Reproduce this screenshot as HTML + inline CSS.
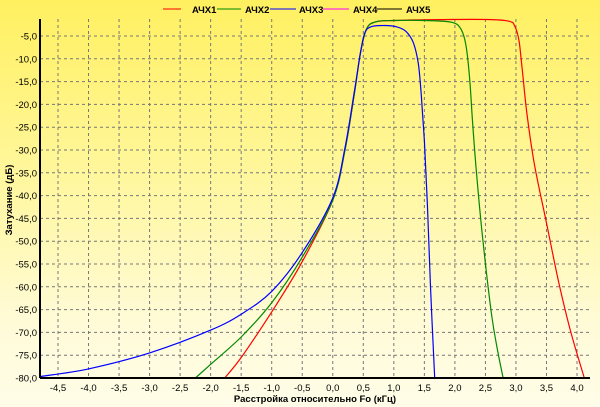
<!DOCTYPE html>
<html><head><meta charset="utf-8"><style>
html,body{margin:0;padding:0}
body{width:600px;height:407px;overflow:hidden;background:linear-gradient(#fff060 0%,#fff7a0 45%,#fffbd8 80%,#fffde8 100%);font-family:"Liberation Sans",Arial,sans-serif}
svg{position:absolute;left:0;top:0}
text{font-family:"Liberation Sans",Arial,sans-serif;font-size:9.5px;fill:#000}
</style></head><body>
<svg id="s" width="600" height="407" xmlns="http://www.w3.org/2000/svg">
<g id="grid" stroke="#777" stroke-width="1" stroke-dasharray="3,3"></g>
<g id="curves" fill="none" stroke-width="1.2"></g>
<line x1="40" y1="19" x2="40" y2="378" stroke="#000" stroke-width="2"/>
<line x1="40" y1="378" x2="590" y2="378" stroke="#000" stroke-width="2"/>
<g id="lab"></g>
<g font-weight="bold">
<line x1="163" y1="9" x2="181" y2="9" stroke="#f00"/><text x="192" y="13" font-weight="bold">АЧХ1</text>
<line x1="217" y1="9" x2="241" y2="9" stroke="#080"/><text x="245" y="13" font-weight="bold">АЧХ2</text>
<line x1="270" y1="9" x2="296" y2="9" stroke="#00f"/><text x="299" y="13" font-weight="bold">АЧХ3</text>
<line x1="323" y1="9" x2="349" y2="9" stroke="#f0f"/><text x="353" y="13" font-weight="bold">АЧХ4</text>
<line x1="377" y1="9" x2="402" y2="9" stroke="#000"/><text x="406" y="13" font-weight="bold">АЧХ5</text>
</g>
<text x="315" y="402" text-anchor="middle" font-weight="bold">Расстройка относительно Fo (кГц)</text>
<text transform="translate(12,200) rotate(-90)" text-anchor="middle" font-weight="bold">Затухание (дБ)</text>
</svg>
<script>
(function(){
var NS="http://www.w3.org/2000/svg";
function X(f){return 58+(f+4.5)*61.06}
function Y(d){return 36+(-5-d)/5*22.8}
function el(p,t,a,txt){var e=document.createElementNS(NS,t);for(var k in a)e.setAttribute(k,a[k]);if(txt)e.textContent=txt;p.appendChild(e);return e}
var g=document.getElementById('grid'),lab=document.getElementById('lab');
for(var i=-9;i<=8;i++){var f=i*0.5,x=X(f);el(g,'line',{x1:x,y1:19,x2:x,y2:378});
el(lab,'text',{x:x,y:391,'text-anchor':'middle'},(f.toFixed(1)).replace('.',','));}
for(var d=-5;d>=-80;d-=5){var y=Y(d);el(g,'line',{x1:40,y1:y,x2:590,y2:y});
el(lab,'text',{x:37,y:y+3.5,'text-anchor':'end'},d.toFixed(1).replace('.',','));}
var rise=[[0.2,-30],[0.35,-18],[0.45,-9],[0.55,-3.5],[0.7,-1.9],[1.0,-1.6]];
var data={
"#f00":[[-1.77,-80],[-1.5,-75.5],[-1.0,-65.5],[-0.5,-54.5],[0,-41]].concat(rise,[[1.8,-1.4],[2.6,-1.4],[2.9,-1.8],[2.98,-2.8],[3.05,-6],[3.1,-12],[3.18,-22],[3.3,-33],[3.5,-46],[3.7,-59],[3.9,-70],[4.12,-80]]),
"#080":[[-2.25,-80],[-2,-77],[-1.5,-71],[-1,-63.5],[-0.5,-53.5],[0,-41]].concat(rise,[[1.5,-1.6],[1.95,-2],[2.1,-3.5],[2.18,-7],[2.24,-14],[2.29,-24],[2.36,-36],[2.46,-50],[2.6,-66],[2.7,-74],[2.79,-80]]),
"#00f":[[-4.8,-79.7],[-4,-78],[-3,-74.5],[-2,-69.5],[-1.5,-66],[-1,-61],[-0.5,-52.5],[0,-40.5],[0.2,-29.5],[0.35,-17.5],[0.45,-9],[0.52,-4.5],[0.62,-3],[0.85,-2.7],[1.05,-3],[1.2,-4],[1.32,-6.5],[1.4,-11],[1.45,-18],[1.5,-28],[1.55,-42],[1.6,-60],[1.67,-80]]};
var c=document.getElementById('curves');
for(var col in data){var p=data[col].map(function(q){return [X(q[0]),Y(q[1])]});
var s="M"+p[0][0].toFixed(1)+","+p[0][1].toFixed(1);
for(var i=0;i<p.length-1;i++){var p0=p[Math.max(0,i-1)],p1=p[i],p2=p[i+1],p3=p[Math.min(p.length-1,i+2)];
var t=1/6;s+=" C"+(p1[0]+(p2[0]-p0[0])*t).toFixed(1)+","+(p1[1]+(p2[1]-p0[1])*t).toFixed(1)+" "+(p2[0]-(p3[0]-p1[0])*t).toFixed(1)+","+(p2[1]-(p3[1]-p1[1])*t).toFixed(1)+" "+p2[0].toFixed(1)+","+p2[1].toFixed(1);}
el(c,'path',{d:s,stroke:col});}
})();
</script>
</body></html>
